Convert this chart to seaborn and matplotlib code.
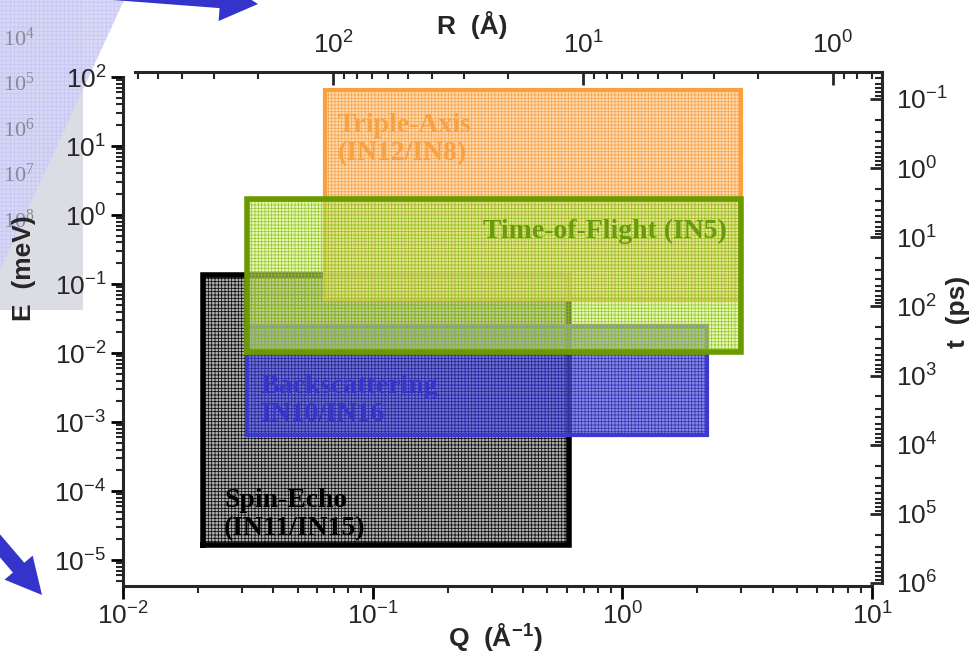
import numpy as np
import pandas as pd
import matplotlib
matplotlib.use("Agg")
import matplotlib.pyplot as plt
import seaborn as sns
from matplotlib.patches import Rectangle, Polygon, FancyArrow
from matplotlib.ticker import FixedLocator, LogLocator, FuncFormatter, NullFormatter

# ---------------- data ----------------
instruments = ["Spin-Echo\n(IN11/IN15)", "Backscattering\nIN10/IN16",
               "Triple-Axis\n(IN12/IN8)", "Time-of-Flight (IN5)"]
q_min = [0.021, 0.0314, 0.0646, 0.0314]
q_max = [0.61, 2.18, 3.0, 2.99]
e_min = [1.65e-5, 6.6e-4, 0.0605, 0.0104]
e_max = [0.134, 0.0247, 65.0, 1.68]

q_ticks = [1e-2, 1e-1, 1e0, 1e1]
e_ticks = [1e2, 1e1, 1e0, 1e-1, 1e-2, 1e-3, 1e-4, 1e-5]
r_ticks = [1e2, 1e1, 1e0]
t_ticks = [1e-1, 1e0, 1e1, 1e2, 1e3, 1e4, 1e5, 1e6]
side_exponents = [4, 5, 6, 7, 8]

# ---------------- style ----------------
sns.set_style("ticks")
plt.rcParams["font.family"] = ["Liberation Sans", "DejaVu Sans"]
plt.rcParams["mathtext.fontset"] = "custom"
plt.rcParams["mathtext.rm"] = "Liberation Sans"
plt.rcParams["mathtext.bf"] = "Liberation Sans:bold"
plt.rcParams["hatch.linewidth"] = 0.55

border_col = ["#000000", "#3a3ad0", "#f9a03f", "#6a9a00"]
fill_col = ["#a9a9a9", "#5d5dda", "#fdd3a0", "#d6f07a"]
fill_alpha = [0.92, 0.75, 0.85, 0.55]
hatch_col = [(0.0, 0.0, 0.0, 0.95), (0.14, 0.14, 0.66, 0.8),
             (0.97, 0.62, 0.25, 0.85), (0.55, 0.76, 0.1, 0.85)]
text_col = ["#000000", "#3535cc", "#f7a245", "#6a9a10"]
border_lw = [4.0, 3.0, 3.0, 4.0]
text_pos = [(0.135, 0.140, "left"), (0.183, 0.364, "left"),
            (0.287, 0.877, "left"), (0.806, 0.697, "right")]

W, H = 980, 658
fig = plt.figure(figsize=(W / 100, H / 100), dpi=100)

# background decoration (pixel coordinates)
axbg = fig.add_axes([0, 0, 1, 1], zorder=0)
axbg.set_xlim(0, W)
axbg.set_ylim(H, 0)
axbg.axis("off")
axbg.add_patch(Rectangle((0, 0), 83, 310, facecolor="#dcdce4", edgecolor="none"))
axbg.add_patch(Polygon([(0, 0), (124, 0), (0, 270)], closed=True,
                       facecolor="#d6d6f8", edgecolor="#c4c4f2", hatch="++++",
                       linewidth=0, alpha=0.9))
for k, ex in enumerate(side_exponents):
    axbg.text(3, 39 + k * 45.5, r"$\mathregular{10^{%d}}$" % ex, fontsize=16,
              family=["Liberation Serif", "DejaVu Serif"], color="#8a8a96",
              ha="left", va="center")
axbg.add_patch(FancyArrow(100, -8, 158, 12, width=14, head_width=40,
                          head_length=38, length_includes_head=True,
                          facecolor="#3434cc", edgecolor="none"))
axbg.add_patch(FancyArrow(-23, 519, 65, 76, width=15, head_width=37,
                          head_length=36, length_includes_head=True,
                          facecolor="#3434cc", edgecolor="none"))

# main axes (Q, E)
x0, x1, y0, y1 = 123, 872, 77, 586
ax = fig.add_axes([x0 / W, 1 - y1 / H, (x1 - x0) / W, (y1 - y0) / H], zorder=2)
ax.patch.set_alpha(0)
ax.set_xscale("log")
ax.set_yscale("log")
ax.set_xlim(1e-2, 1e1)
ax.set_ylim(10 ** -5.375, 1e2)

for i in range(len(instruments)):
    z = 2 + 3 * i
    w = q_max[i] - q_min[i]
    h = e_max[i] - e_min[i]
    ax.add_patch(Rectangle((q_min[i], e_min[i]), w, h, facecolor=fill_col[i],
                           edgecolor="none", alpha=fill_alpha[i], zorder=z))
    ax.add_patch(Rectangle((q_min[i], e_min[i]), w, h, fill=False,
                           edgecolor=hatch_col[i], hatch="+++++", linewidth=0,
                           zorder=z + 0.5))
    df = pd.DataFrame({"Q": [q_min[i], q_max[i], q_max[i], q_min[i], q_min[i]],
                       "E": [e_min[i], e_min[i], e_max[i], e_max[i], e_min[i]]})
    sns.lineplot(data=df, x="Q", y="E", sort=False, estimator=None, ax=ax,
                 color=border_col[i], linewidth=border_lw[i], zorder=z + 1,
                 solid_capstyle="projecting", solid_joinstyle="miter")
    tx, ty, ha = text_pos[i]
    ax.text(tx, ty, instruments[i], transform=ax.transAxes, ha=ha, va="center",
            family=["Liberation Serif", "DejaVu Serif"], fontweight="bold",
            fontsize=20, color=text_col[i], linespacing=1.18, zorder=z + 1.2)

fmt = FuncFormatter(lambda v, p: r"$\mathregular{10^{%d}}$" % int(round(np.log10(v))))

ax.xaxis.set_major_locator(FixedLocator(q_ticks))
ax.yaxis.set_major_locator(FixedLocator(e_ticks))
ax.xaxis.set_minor_locator(LogLocator(base=10, subs=np.arange(2, 10), numticks=60))
ax.yaxis.set_minor_locator(LogLocator(base=10, subs=np.arange(2, 10), numticks=60))
ax.xaxis.set_major_formatter(fmt)
ax.yaxis.set_major_formatter(fmt)
ax.xaxis.set_minor_formatter(NullFormatter())
ax.yaxis.set_minor_formatter(NullFormatter())
ax.set_xlabel("")
ax.set_ylabel("")
for s in ["top", "right"]:
    ax.spines[s].set_visible(False)
for s in ["left", "bottom"]:
    ax.spines[s].set_linewidth(2.2)
ax.tick_params(which="major", direction="out", length=9, width=2.0,
               labelsize=19, pad=3, color="black")
ax.tick_params(which="minor", direction="out", length=5, width=1.5)
ax.grid(False)

# secondary axes (R, t)
u0, u1, v0, v1 = 135, 882, 72, 583
ax2 = fig.add_axes([u0 / W, 1 - v1 / H, (u1 - u0) / W, (v1 - v0) / H], zorder=3)
ax2.patch.set_alpha(0)
ax2.set_xscale("log")
ax2.set_yscale("log")
ax2.set_xlim(10 ** 2.792, 10 ** -0.196)
ax2.set_ylim(1e6, 10 ** -1.39)
for s in ["left", "bottom"]:
    ax2.spines[s].set_visible(False)
for s in ["top", "right"]:
    ax2.spines[s].set_linewidth(2.2)
ax2.xaxis.set_ticks_position("top")
ax2.xaxis.set_label_position("top")
ax2.yaxis.set_ticks_position("right")
ax2.yaxis.set_label_position("right")
ax2.xaxis.set_major_locator(FixedLocator(r_ticks))
ax2.yaxis.set_major_locator(FixedLocator(t_ticks))
ax2.xaxis.set_minor_locator(LogLocator(base=10, subs=np.arange(2, 10), numticks=60))
ax2.yaxis.set_minor_locator(LogLocator(base=10, subs=np.arange(2, 10), numticks=60))
ax2.xaxis.set_major_formatter(fmt)
ax2.yaxis.set_major_formatter(fmt)
ax2.xaxis.set_minor_formatter(NullFormatter())
ax2.yaxis.set_minor_formatter(NullFormatter())
ax2.tick_params(which="major", direction="in", length=9, width=2.0,
                labelsize=19, pad=10)
ax2.tick_params(which="minor", direction="in", length=5, width=1.5)
ax2.grid(False)

# axis titles (pixel placement)
def ftext(x, y, s, **kw):
    fig.text(x / W, 1 - y / H, s, ha="center", va="center", fontsize=19,
             fontweight="bold", **kw)

ftext(495, 638, r"Q  (Å$^{\mathbf{-1}}$)")
ftext(24, 268, "E  (meV)", rotation=90)
ftext(472, 25, "R  (Å)")
ftext(958, 312, "t  (ps)", rotation=90)

fig.savefig("out.png", dpi=100)
